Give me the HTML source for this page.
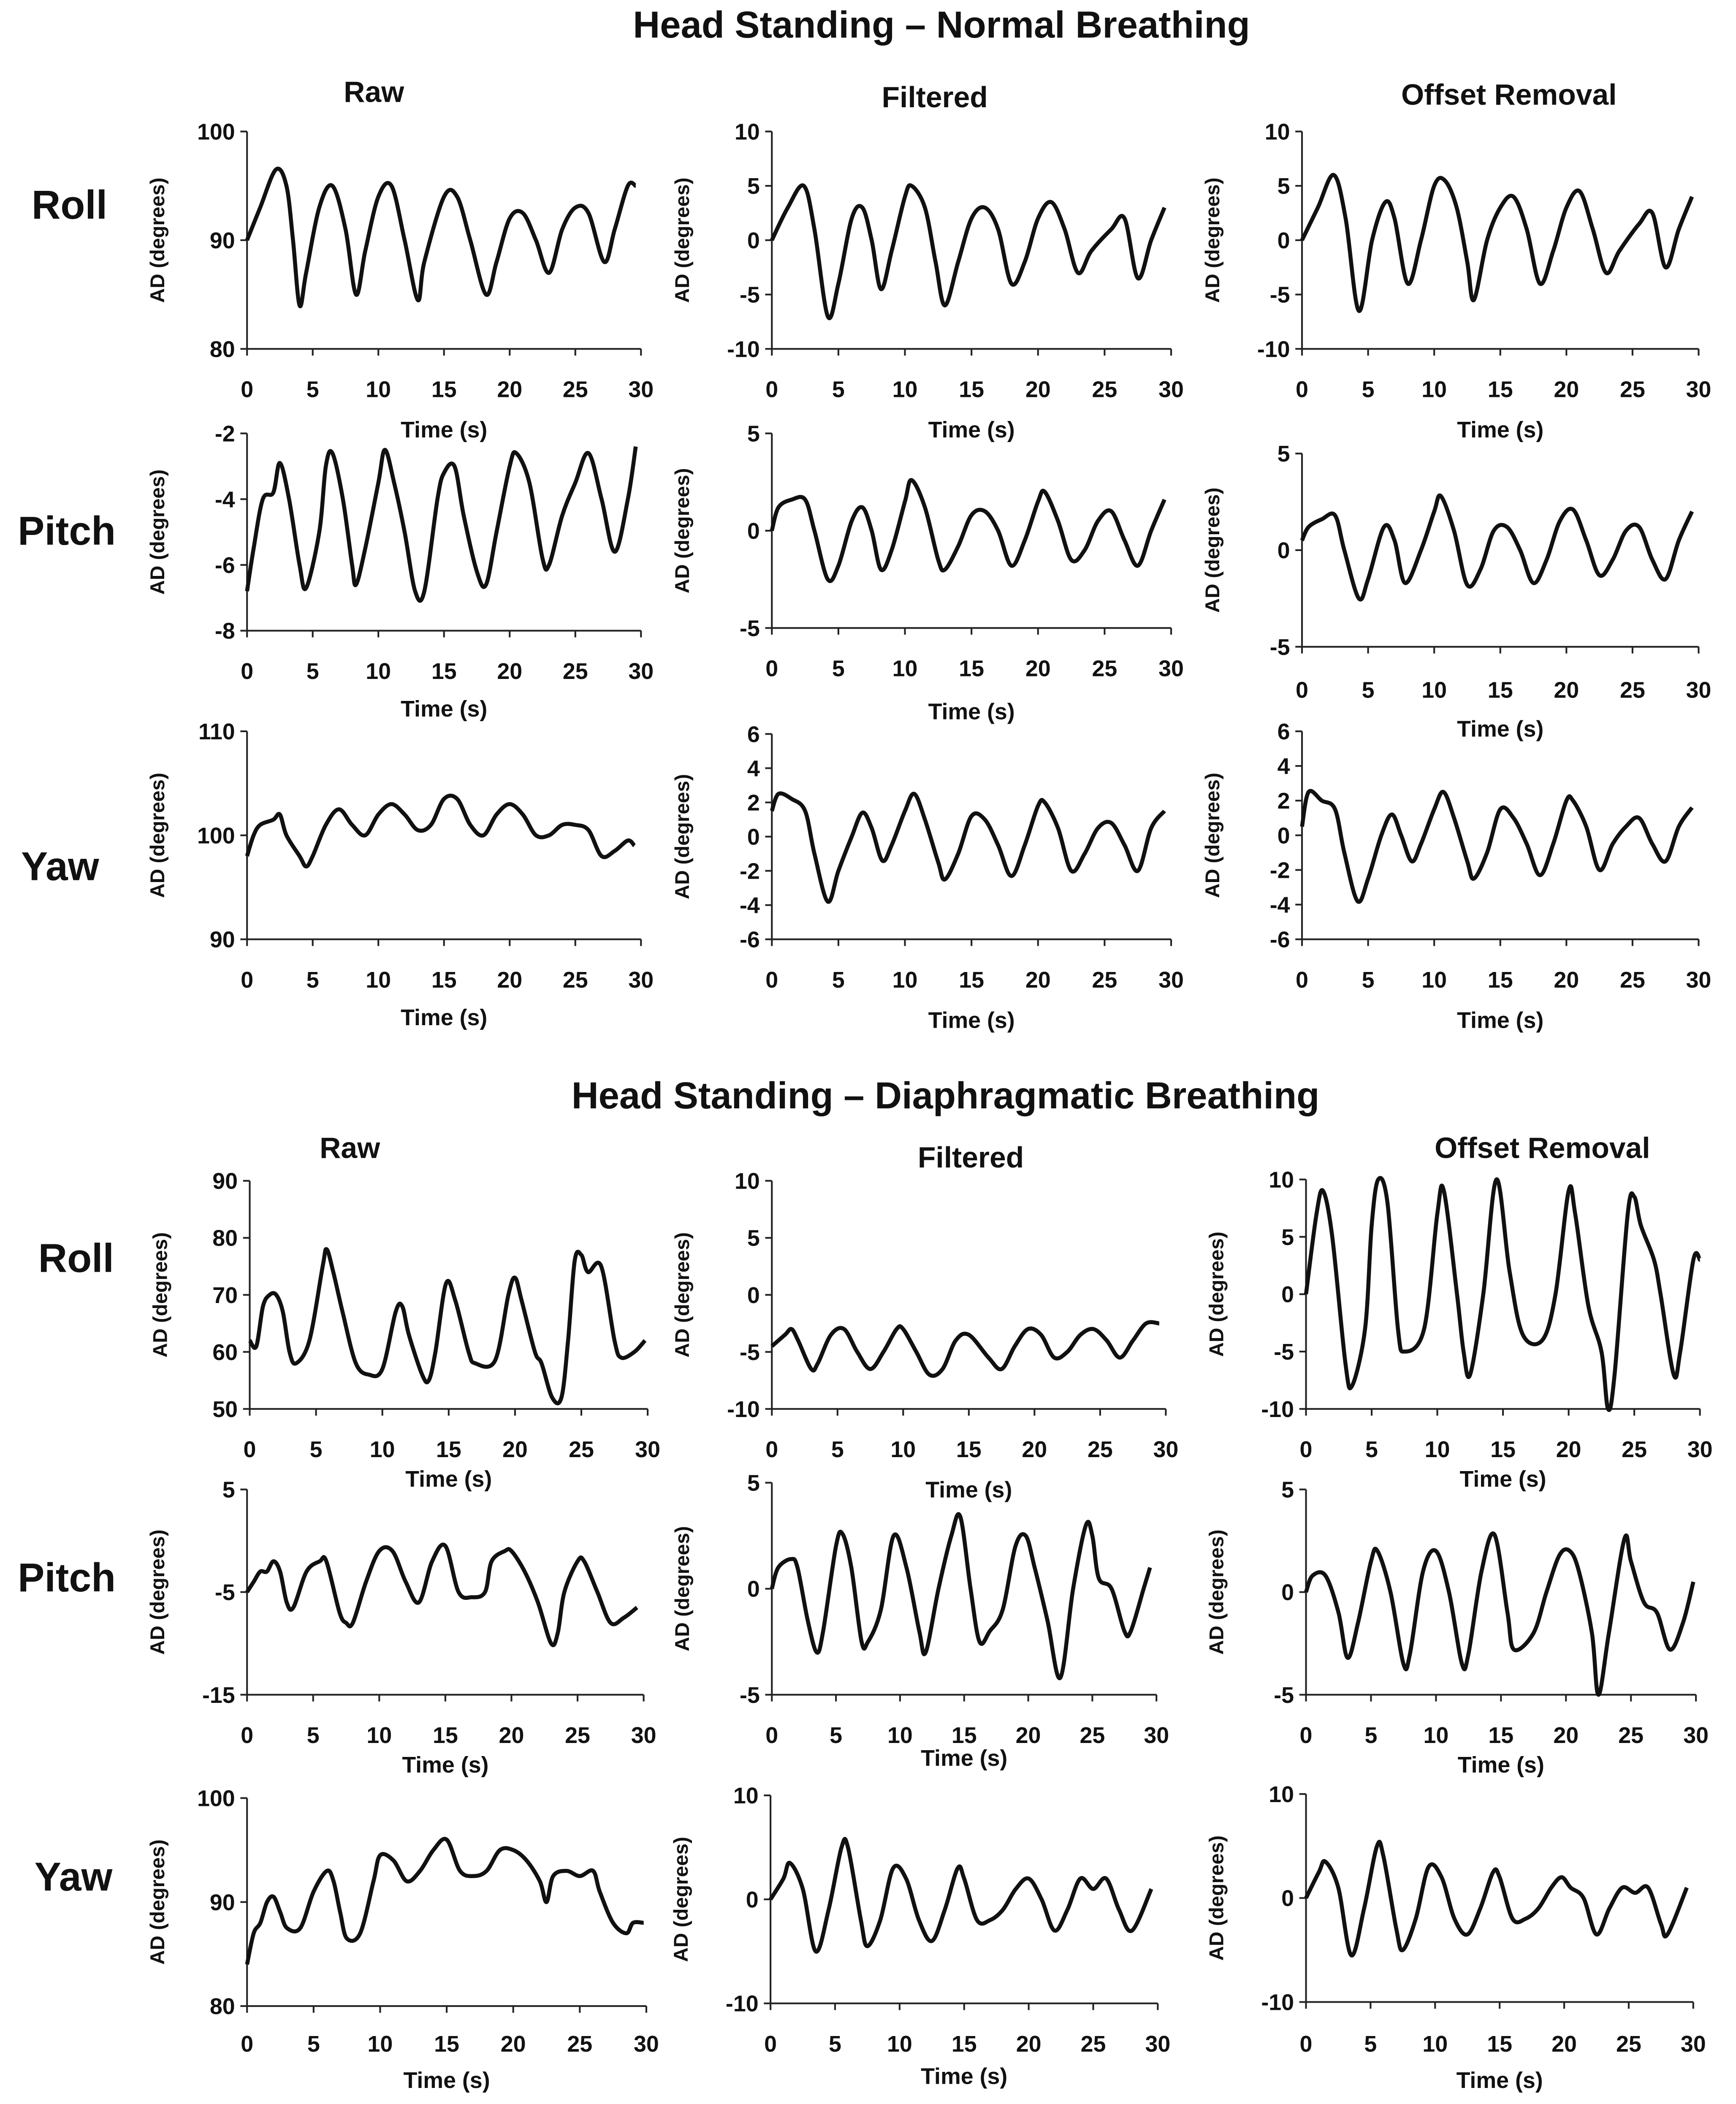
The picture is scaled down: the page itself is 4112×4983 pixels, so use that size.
<!DOCTYPE html>
<html><head><meta charset="utf-8">
<style>
html,body{margin:0;padding:0;background:#fff;}
svg{display:block;}
text{font-family:"Liberation Sans",Arial,sans-serif;font-weight:bold;fill:#111;}
</style></head>
<body>
<svg id="fig" width="4112" height="4983" viewBox="0 0 1300 1568" preserveAspectRatio="none" xmlns="http://www.w3.org/2000/svg">
<text x="705" y="28" font-size="28" text-anchor="middle">Head Standing – Normal Breathing</text>
<text x="280" y="76" font-size="22" text-anchor="middle">Raw</text>
<text x="700" y="80" font-size="22" text-anchor="middle">Filtered</text>
<text x="1130" y="78" font-size="22" text-anchor="middle">Offset Removal</text>
<text x="52" y="163" font-size="30" text-anchor="middle">Roll</text>
<text x="50" y="406" font-size="30" text-anchor="middle">Pitch</text>
<text x="45" y="656" font-size="30" text-anchor="middle">Yaw</text>
<text x="708" y="826" font-size="28" text-anchor="middle">Head Standing – Diaphragmatic Breathing</text>
<text x="262" y="863" font-size="22" text-anchor="middle">Raw</text>
<text x="727" y="870" font-size="22" text-anchor="middle">Filtered</text>
<text x="1155" y="863" font-size="22" text-anchor="middle">Offset Removal</text>
<text x="57" y="948" font-size="30" text-anchor="middle">Roll</text>
<text x="50" y="1186" font-size="30" text-anchor="middle">Pitch</text>
<text x="55" y="1409" font-size="30" text-anchor="middle">Yaw</text>
</svg>
<script>
// ---- data: keypoint times (s) and values (degrees) ----
const xTicks = [0,5,10,15,20,25,30];
// Normal breathing
const nRawRollT = [0,1,2.2,3,3.5,4,4.5,5.5,6.5,7.5,8.3,9,10,11,12,13,13.5,15,16,17,18.2,19,20,21,22,23,24,25,26,27.2,28,29,29.6];
const nRawRollV = [90,93,96.5,95,90,84,87,93,95,91,85,89,94,95,90,84.5,88,94,94,90,85,88,92,92.5,90,87,91,93,92.5,88,91,95,95];
const nFiltRollT = [0,1.2,2.4,3.2,4.2,5,6,6.8,7.5,8.2,9,10,10.5,11.5,12.3,13,14,15,16,17,18,19,20,21,22,23,24,25.5,26.5,27.5,28.5,29.5];
const nFiltRollV = [0,3,5,1,-7,-4,2,3,0,-4.5,-1,4,5,3,-2,-6,-2,2,3,1,-4,-2,2,3.5,1,-3,-1,1,2,-3.5,0,3];
const nOffRollT = [0,1.2,2.4,3.3,4.3,5.3,6.3,7,8,9,10,10.8,11.7,12.5,13,14,15,16,17,18,19,20,21,22,23,24,25.5,26.5,27.5,28.5,29.5];
const nOffRollV = [0,3,6,2,-6.5,0,3.5,2,-4,0,5,5.5,3,-2,-5.5,0,3,4,1,-4,-1,3,4.5,1,-3,-1,1.5,2.5,-2.5,1,4];
const nRawPitchT = [0,0.5,1.2,2,2.5,3.2,4,4.5,5.5,6,6.5,7.3,8,8.3,9,10,10.5,11.2,12,12.8,13.5,14.5,15,15.8,16.5,17.5,18.2,19,20,20.5,21.5,22.5,23,24,25,26,27,28,29,29.6];
const nRawPitchV = [-6.8,-5.5,-4,-3.8,-2.9,-4,-6,-6.7,-5,-3,-2.6,-4,-6,-6.6,-5.5,-3.5,-2.5,-3.5,-5,-6.8,-6.8,-4,-3.2,-3,-4.5,-6.2,-6.6,-5,-3,-2.6,-3.5,-5.8,-6,-4.5,-3.5,-2.6,-4,-5.6,-4,-2.4];
const nFiltPitchT = [0,0.5,1.5,2.5,3.2,4.2,5,6,6.8,7.5,8.2,9,10,10.5,11.5,12.5,13,14,15,16,17,18,19,20,20.5,21.5,22.5,23.5,24.5,25.5,26.5,27.5,28.5,29.5];
const nFiltPitchV = [0,1.2,1.6,1.6,0,-2.5,-1.8,0.5,1.2,0,-2,-1,1.5,2.6,1.2,-1.5,-2,-0.8,0.8,1,0,-1.8,-0.5,1.5,2,0.5,-1.5,-1,0.5,1,-0.5,-1.8,0,1.6];
const nOffPitchT = [0,0.5,1.5,2.5,3.2,4.3,5,6.2,7,7.8,9,10,10.5,11.5,12.5,13.5,14.5,15.5,16.5,17.5,18.5,19.5,20.5,21.5,22.5,23.5,24.5,25.5,26.5,27.5,28.5,29.5];
const nOffPitchV = [0.5,1.2,1.6,1.8,0,-2.5,-1.5,1.2,0.5,-1.7,0,2,2.8,1,-1.8,-1,1,1.2,0,-1.7,-0.5,1.5,2.1,0.5,-1.3,-0.5,1,1.2,-0.5,-1.5,0.5,2];
const nRawYawT = [0,0.5,1,2,2.5,3,4,4.5,5,6,7,8,9,10,11,12,13,14,15,16,17,18,19,20,21,22,23,24,25,26,27,28,29,29.5];
const nRawYawV = [98,100,101,101.5,102,100,98,97,98,101,102.5,101,100,102,103,102,100.5,101,103.5,103.5,101,100,102,103,102,100,100,101,101,100.5,98,98.5,99.5,99];
const nFiltYawT = [0,0.5,1.5,2.5,3.2,4.2,5,6,6.8,7.5,8.3,9,10,10.7,11.5,12.5,13,14,15,16,17,18,19,20,20.5,21.5,22.5,23.5,24.5,25.5,26.5,27.5,28.5,29.5];
const nFiltYawV = [1.5,2.5,2.2,1.5,-1,-3.8,-2,0,1.4,0.5,-1.4,-0.5,1.5,2.5,1,-1.5,-2.5,-1,1.2,1,-0.5,-2.3,-0.5,1.8,2,0.5,-2,-1,0.5,0.8,-0.5,-2,0.5,1.5];
const nOffYawT = [0,0.5,1.5,2.5,3.2,4.2,5,6,6.8,7.5,8.3,9,10,10.7,11.5,12.5,13,14,15,16,17,18,19,20,20.5,21.5,22.5,23.5,24.5,25.5,26.5,27.5,28.5,29.5];
const nOffYawV = [0.5,2.5,2,1.5,-1,-3.8,-2.5,0,1.2,0,-1.5,-0.5,1.5,2.5,1,-1.5,-2.5,-1,1.5,1,-0.5,-2.3,-0.5,2,2,0.5,-2,-0.5,0.5,1,-0.5,-1.5,0.5,1.6];
// Diaphragmatic breathing
const dRawRollT = [0,0.5,1,1.5,2,2.5,3,3.5,4.5,5.5,5.8,6.3,7,8,9,10,11,11.5,12,13,13.5,14,14.8,15.5,16.5,17,18.5,19.5,20,20.5,21.5,22,22.8,23.5,24,24.5,25,25.5,26.5,27.5,28,29,29.8];
const dRawRollV = [62,61,68,70,70,67,60,58,62,75,78,74,67,58,56,57,67,68,63,56,55,60,72,69,60,58,58.5,70,73,69,60,58,52,52,62,76,77,74,75,62,59,60,62];
const dFiltRollT = [0,1,1.5,2,3,3.5,4.5,5.5,6.5,7.5,8.5,9.5,10,11,12,13,14,15,16.5,17.5,18.5,19.5,20.5,21.5,22.5,23.5,24.5,25.5,26.5,27.5,28.5,29.5];
const dFiltRollV = [-4.5,-3.5,-3,-4,-6.5,-6,-3.5,-3,-5,-6.5,-5,-3,-3,-5,-7,-6.5,-4,-3.5,-5.5,-6.5,-4.5,-3,-3.5,-5.5,-5,-3.5,-3,-4,-5.5,-4,-2.5,-2.5];
const dOffRollT = [0,0.8,1.3,2,3,3.5,4.5,5,5.5,6.2,7,7.5,9,10,10.5,11.5,12,12.5,13.5,14.5,15.5,16.5,18,19,20,20.5,21.5,22.5,23,23.5,24.5,25,25.5,26.5,27,28,28.5,29.5,30];
const dOffRollV = [0,7,9,5,-6,-8,-3,6,10,8,-3,-5,-3,7,9,0,-5,-7,0,10,2,-3.5,-4,0,9,7,-1,-5,-10,-7,7,8.5,6,3,0,-7,-5,3,3];
const dRawPitchT = [0,0.5,1,1.5,2,2.5,3,3.5,4.5,5.5,6,7,7.5,8,9,10,11,12,13,14,15,16,17,18,18.5,19.5,20,21,22,23,23.5,24,25,25.5,26.5,27.5,28.5,29.5];
const dRawPitchV = [-5,-4,-3,-3,-2,-3,-6,-6.5,-3,-2,-2,-7,-8,-8,-4,-1,-1,-4,-6,-2,-0.5,-5,-5.5,-5,-2,-1,-1,-3,-6,-10,-9,-5,-2,-2,-5,-8,-7.5,-6.5];
const dFiltPitchT = [0,0.5,1.5,2,2.8,3.5,4,5,5.5,6.2,7,7.5,8.5,9.5,10.5,11.5,12,13,14,14.7,15.5,16.2,17,18,19,19.8,20.5,21.5,22.5,23.5,24.5,25,25.5,26.5,27.5,28,29,29.5];
const dFiltPitchV = [0,1,1.4,1,-1.5,-3,-2,2,2.6,1,-2.5,-2.5,-1,2.5,1,-2,-3,0,2.5,3.4,0,-2.5,-2,-1,2,2.5,1,-1.5,-4.2,0,3,2.5,0.5,0,-2,-2,0,1];
const dOffPitchT = [0,0.5,1.5,2.5,3.2,4,5,5.5,6.5,7.5,8,9,10,11,12,12.5,13.5,14.5,15.5,16,17.5,18.5,19.5,20.3,21,22,22.5,23.3,24.5,25,26,27,28,29,29.8];
const dOffPitchV = [0,0.8,0.8,-1,-3.2,-1.5,1.5,2,0,-3.5,-3,1,2,0,-3.5,-3,1,2.8,-1,-2.8,-2,0,1.8,2,1,-2,-5,-2,2.6,1.5,-0.5,-1,-2.8,-1.5,0.5];
const dRawYawT = [0,0.5,1,1.5,2,2.5,3,4,5,6,6.5,7,7.5,8.5,9.5,10,11,12,13,14,15,16,17,18,19,20,21,22,22.5,23,24,25,26,26.5,27.5,28.5,29,29.8];
const dRawYawV = [84,87,88,90,90.5,89,87.5,87.5,91,93,92,89,86.5,87,92,94.5,94,92,93,95,96,93,92.5,93,95,95,94,92,90,92.5,93,92.5,93,91,88,87,88,88];
const dFiltYawT = [0,1,1.5,2.5,3.5,4.5,5.5,6,7,7.5,8.5,9.5,10.5,11.5,12.5,13.5,14.5,15,16,17,18,19,20,21,22,23,24,25,26,27,28,29.5];
const dFiltYawV = [0,2,3.5,1,-5,-1,5,5,-2,-4.5,-2,3,2,-2,-4,-1,3,2,-2,-2,-1,1,2,0,-3,-1,2,1,2,-1,-3,1];
const dOffYawT = [0,1,1.5,2.5,3.5,4.5,5.5,6,7,7.5,8.5,9.5,10.5,11.5,12.5,13.5,14.5,15,16,17,18,19,19.8,20.5,21.5,22.5,23.5,24.5,25.5,26.5,27.5,28,29.5];
const dOffYawV = [0,2.5,3.5,1,-5.5,-1,5,4,-3,-5,-2,3,2,-2,-3.5,-1,2.5,2,-2,-2,-1,1,2,1,0,-3.5,-1,1,0.5,1,-2.5,-3.5,1];
// y tick labels
const ticksRoll100 = [80,90,100];
const ticksPM10 = [-10,-5,0,5,10];
const ticksPitchRaw = [-8,-6,-4,-2];
const ticksPM5 = [-5,0,5];
const ticksYawRaw = [90,100,110];
const ticksPM6 = [-6,-4,-2,0,2,4,6];
const ticksDRoll = [50,60,70,80,90];
const ticksDPitchRaw = [-15,-5,5];
const ticksDYaw = [80,90,100];
const ticksPM10b = [-10,0,10];

// ---- layout (pixel boxes, separate from data) ----
const panels = [
 {n:'normal-raw-roll',t:nRawRollT,v:nRawRollV,yt:ticksRoll100,x0:185,x1:480,y0:98,y1:260,lx:290,ty:320},
 {n:'normal-filtered-roll',t:nFiltRollT,v:nFiltRollV,yt:ticksPM10,x0:578,x1:877,y0:98,y1:260,lx:290,ty:320},
 {n:'normal-offset-roll',t:nOffRollT,v:nOffRollV,yt:ticksPM10,x0:975,x1:1272,y0:98,y1:260,lx:290,ty:320},
 {n:'normal-raw-pitch',t:nRawPitchT,v:nRawPitchV,yt:ticksPitchRaw,x0:185,x1:480,y0:323,y1:470,lx:500,ty:528},
 {n:'normal-filtered-pitch',t:nFiltPitchT,v:nFiltPitchV,yt:ticksPM5,x0:578,x1:877,y0:323,y1:468,lx:498,ty:530},
 {n:'normal-offset-pitch',t:nOffPitchT,v:nOffPitchV,yt:ticksPM5,x0:975,x1:1272,y0:338,y1:482,lx:514,ty:543},
 {n:'normal-raw-yaw',t:nRawYawT,v:nRawYawV,yt:ticksYawRaw,x0:185,x1:480,y0:545,y1:700,lx:730,ty:758},
 {n:'normal-filtered-yaw',t:nFiltYawT,v:nFiltYawV,yt:ticksPM6,x0:578,x1:877,y0:547,y1:700,lx:730,ty:760},
 {n:'normal-offset-yaw',t:nOffYawT,v:nOffYawV,yt:ticksPM6,x0:975,x1:1272,y0:545,y1:700,lx:730,ty:760},
 {n:'diaph-raw-roll',t:dRawRollT,v:dRawRollV,yt:ticksDRoll,x0:187,x1:485,y0:880,y1:1050,lx:1080,ty:1102},
 {n:'diaph-filtered-roll',t:dFiltRollT,v:dFiltRollV,yt:ticksPM10,x0:578,x1:873,y0:880,y1:1050,lx:1080,ty:1110},
 {n:'diaph-offset-roll',t:dOffRollT,v:dOffRollV,yt:ticksPM10,x0:978,x1:1273,y0:879,y1:1050,lx:1080,ty:1102},
 {n:'diaph-raw-pitch',t:dRawPitchT,v:dRawPitchV,yt:ticksDPitchRaw,x0:185,x1:482,y0:1110,y1:1263,lx:1293,ty:1315},
 {n:'diaph-filtered-pitch',t:dFiltPitchT,v:dFiltPitchV,yt:ticksPM5,x0:578,x1:866,y0:1105,y1:1263,lx:1293,ty:1310},
 {n:'diaph-offset-pitch',t:dOffPitchT,v:dOffPitchV,yt:ticksPM5,x0:978,x1:1270,y0:1110,y1:1263,lx:1293,ty:1315},
 {n:'diaph-raw-yaw',t:dRawYawT,v:dRawYawV,yt:ticksDYaw,x0:185,x1:484,y0:1340,y1:1495,lx:1523,ty:1550},
 {n:'diaph-filtered-yaw',t:dFiltYawT,v:dFiltYawV,yt:ticksPM10b,x0:577,x1:867,y0:1338,y1:1493,lx:1523,ty:1547},
 {n:'diaph-offset-yaw',t:dOffYawT,v:dOffYawV,yt:ticksPM10b,x0:978,x1:1268,y0:1337,y1:1492,lx:1523,ty:1550}
];
const NS='http://www.w3.org/2000/svg';
const svg=document.getElementById('fig');
function mk(tag,attrs,parent){const e=document.createElementNS(NS,tag);for(const k in attrs)e.setAttribute(k,attrs[k]);parent.appendChild(e);return e;}
function smoothPath(pts){
  let d='M'+pts[0][0].toFixed(2)+','+pts[0][1].toFixed(2);
  for(let i=0;i<pts.length-1;i++){
    const p0=pts[Math.max(0,i-1)],p1=pts[i],p2=pts[i+1],p3=pts[Math.min(pts.length-1,i+2)];
    const c1=[p1[0]+(p2[0]-p0[0])/6,p1[1]+(p2[1]-p0[1])/6];
    const c2=[p2[0]-(p3[0]-p1[0])/6,p2[1]-(p3[1]-p1[1])/6];
    d+=' C'+c1[0].toFixed(2)+','+c1[1].toFixed(2)+' '+c2[0].toFixed(2)+','+c2[1].toFixed(2)+' '+p2[0].toFixed(2)+','+p2[1].toFixed(2);
  }
  return d;
}
panels.forEach(p=>{
  const g=mk('g',{},svg);
  
  
  const ymin=p.yt[0],ymax=p.yt[p.yt.length-1];
  const xs=t=>p.x0+(t/30)*(p.x1-p.x0);
  const ys=v=>p.y1-(v-ymin)/(ymax-ymin)*(p.y1-p.y0);
  const ax=mk('path',{d:'M'+p.x0+','+p.y0+' V'+p.y1+' H'+p.x1,stroke:'#222','stroke-width':1.3,fill:'none'},g);
  
  
  p.yt.forEach(v=>{
    const y=ys(v);
    mk('line',{x1:p.x0-5,x2:p.x0,y1:y,y2:y,stroke:'#222','stroke-width':1.3},g);
    const tx=mk('text',{x:p.x0-9,y:y+6,'font-size':17,'text-anchor':'end'},g);
    tx.textContent=v;
    
    
  });
  xTicks.forEach(t=>{
    const x=xs(t);
    mk('line',{x1:x,x2:x,y1:p.y1,y2:p.y1+5,stroke:'#222','stroke-width':1.3},g);
    const tx=mk('text',{x:x,y:p.lx+6,'font-size':17,'text-anchor':'middle'},g);
    tx.textContent=t;
    
    
  });
  const xt=mk('text',{x:(p.x0+p.x1)/2,y:p.ty+6,'font-size':17,'text-anchor':'middle'},g);
  xt.textContent='Time (s)';
  
  
  const cy=(p.y0+p.y1)/2, cx=p.x0-62;
  const yt=mk('text',{x:cx,y:cy,'font-size':15,'text-anchor':'middle',transform:'rotate(-90 '+cx+' '+cy+')'},g);
  yt.textContent='AD (degrees)';
  
  
  const pts=p.t.map((t,i)=>[xs(t),ys(p.v[i])]);
  const ln=mk('path',{d:smoothPath(pts),stroke:'#111','stroke-width':3,fill:'none','stroke-linejoin':'round'},g);
  
  
});
</script>
</body></html>
